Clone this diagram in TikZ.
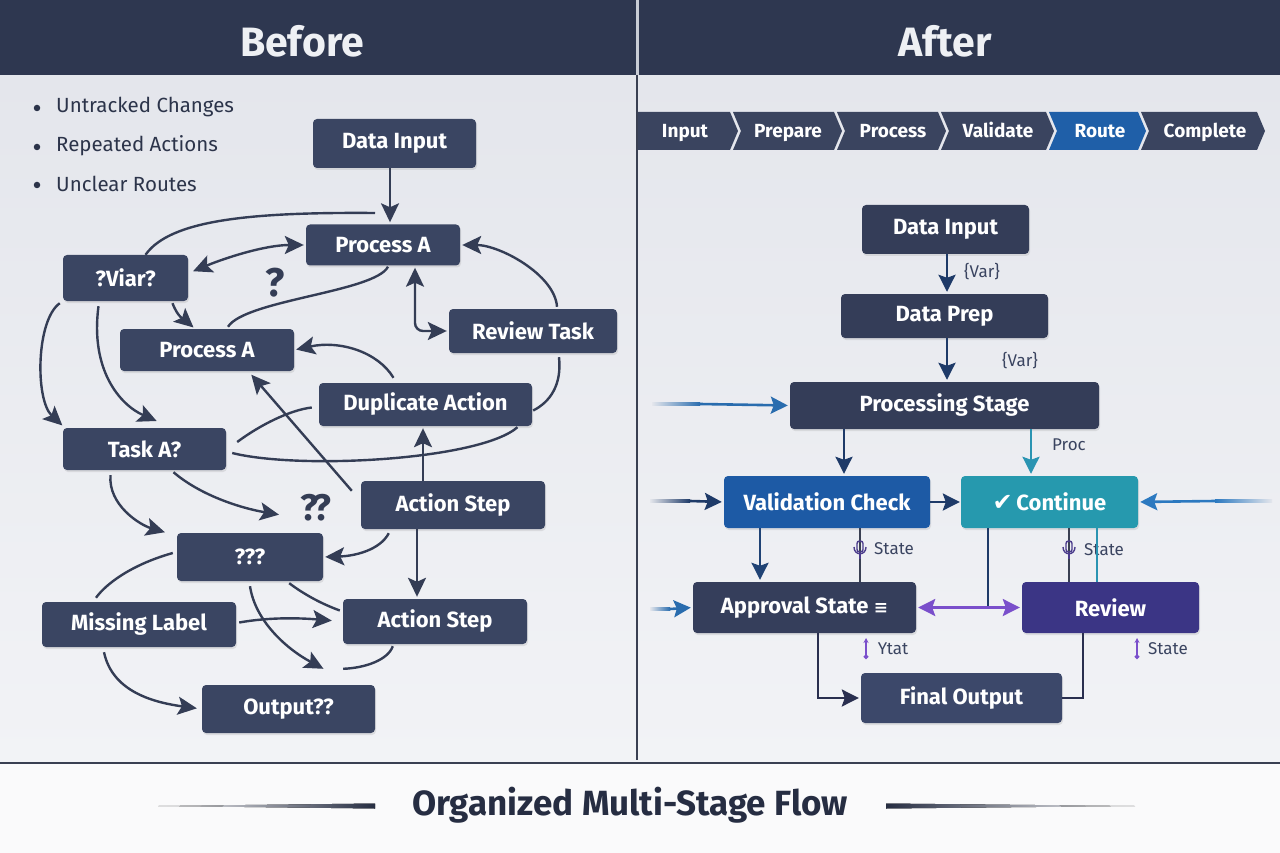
\documentclass[tikz,border=0pt]{standalone}
\usepackage{fontspec}
\setmainfont{Fira Sans}
\newfontfamily\symfont{DejaVu Sans}
\usetikzlibrary{arrows.meta,shadows,calc}
\definecolor{hdr}{HTML}{2E3750}
\definecolor{hdrtext}{HTML}{EEF0F4}
\definecolor{hdrline}{HTML}{C9CDD6}
\definecolor{divc}{HTML}{3A4052}
\definecolor{bgtop}{HTML}{E4E6EC}
\definecolor{bgbot}{HTML}{F2F3F6}
\definecolor{botc}{HTML}{FAFAFB}
\definecolor{nodec}{HTML}{3A4562}
\definecolor{linec}{HTML}{343D55}
\definecolor{txtc}{HTML}{2C344A}
\definecolor{chevc}{HTML}{3A445F}
\definecolor{routec}{HTML}{1F5FA8}
\definecolor{valc}{HTML}{1D5AA5}
\definecolor{contc}{HTML}{2699AE}
\definecolor{apprc}{HTML}{353E5B}
\definecolor{revc}{HTML}{3B3585}
\definecolor{finc}{HTML}{3C486A}
\definecolor{darkc}{HTML}{343D58}
\definecolor{navyc}{HTML}{1E3A68}
\definecolor{tealc}{HTML}{2A94B2}
\definecolor{purpc}{HTML}{7A4FCB}
\definecolor{bluec}{HTML}{2C79C0}
\definecolor{lblc}{HTML}{3A4460}
\definecolor{iconc}{HTML}{4B3C8C}
\definecolor{titlec}{HTML}{262D42}
\definecolor{elbowc}{HTML}{2A2F4F}
\newcommand\stateicon[1]{%
  \draw[iconc, line width=1.4pt, rounded corners=2.5pt] ($(#1)+(-3,-8)$) rectangle ($(#1)+(3,3)$);
  \draw[iconc, line width=1.4pt] ($(#1)+(-6,-2)$) .. controls ($(#1)+(-6,7)$) and ($(#1)+(6,7)$) .. ($(#1)+(6,-2)$);
  \draw[iconc, line width=1.4pt] ($(#1)+(0,5)$) -- ($(#1)+(0,10)$);}
\begin{document}
\begin{tikzpicture}[x=1pt,y=-1pt,
  box/.style={rounded corners=4pt, inner sep=0pt, text=white,
    font=\bfseries\fontsize{22}{26}\selectfont,
    drop shadow={opacity=0.18, shadow xshift=1pt, shadow yshift=-2pt}},
  lbox/.style={box, fill=nodec},
  lconn/.style={draw=linec, line width=2.4pt},
  larr/.style={lconn, -{Stealth[length=19pt,width=18pt,inset=4pt]}, shorten >=2pt},
  lbarr/.style={lconn, {Stealth[length=19pt,width=18pt,inset=4pt]}-{Stealth[length=19pt,width=18pt,inset=4pt]}, shorten >=2pt, shorten <=2pt},
  rarr/.style={line width=2.6pt, -{Stealth[length=17pt,width=17pt,inset=3pt]}, shorten >=2pt},
  rbarr/.style={line width=2.6pt, {Stealth[length=17pt,width=17pt,inset=3pt]}-{Stealth[length=17pt,width=17pt,inset=3pt]}, shorten >=2pt, shorten <=2pt},
  lbl/.style={font=\fontsize{17}{20}\selectfont, text=lblc, inner sep=0pt},
  chevtxt/.style={font=\bfseries\fontsize{19}{22}\selectfont, text=white, inner sep=0pt, anchor=base},
  qmark/.style={font=\bfseries\fontsize{40}{44}\selectfont, text=linec, inner sep=0pt},
  bultxt/.style={font=\fontsize{20.5}{24}\selectfont, text=txtc, inner sep=0pt, anchor=west},
  bdot/.style={circle, fill=txtc, inner sep=0pt, minimum size=6.5pt}
]
\useasboundingbox (0,0) rectangle (1280,853);
% ---------- backgrounds
\fill[top color=bgtop, bottom color=bgbot] (0,75) rectangle (1280,763);
\fill[botc] (0,763) rectangle (1280,853);
\fill[hdr] (0,0) rectangle (1280,75);
\fill[hdrline] (635.5,0) rectangle (638.5,75);
\draw[divc, line width=1.6pt] (637,75) -- (637,760);
\draw[divc, line width=2pt] (0,763) -- (1280,763);
\node[font=\bfseries\fontsize{41}{46}\selectfont, text=hdrtext] (hb) at (302,41) {Before};
\node[font=\bfseries\fontsize{41}{46}\selectfont, text=hdrtext] (ha) at (945,41) {After};
% ---------- bottom title
\node[font=\bfseries\fontsize{35}{40}\selectfont, text=titlec] (title) at (630,805) {Organized Multi-Stage Flow};
\fill[left color=botc, right color=titlec] (158,806) -- (375,803.5) -- (375,808.5) -- cycle;
\fill[left color=titlec, right color=botc] (886,803.5) -- (1135,806) -- (886,808.5) -- cycle;
% ---------- bullets
\node[bdot] (b1d) at (37,108) {};
\node[bultxt] (b1) at (56,107) {Untracked Changes};
\node[bdot] (b2d) at (37,147) {};
\node[bultxt] (b2) at (56,146) {Repeated Actions};
\node[bdot] (b3d) at (37,185) {};
\node[bultxt] (b3) at (56,184) {Unclear Routes};
% ---------- left nodes
\node[lbox, minimum width=163pt, minimum height=49pt] (ldin) at (394.5,143.5) {Data Input};
\node[lbox, minimum width=154pt, minimum height=41pt] (lpa1) at (383,245) {Process A};
\node[lbox, minimum width=125pt, minimum height=46pt] (lviar) at (125.5,278) {?Viar?};
\node[lbox, minimum width=174pt, minimum height=42pt] (lpa2) at (207,350) {Process A};
\node[lbox, minimum width=168pt, minimum height=44pt] (lrev) at (533,331) {Review Task};
\node[lbox, minimum width=213pt, minimum height=43pt] (ldup) at (425.5,404.5) {Duplicate Action};
\node[lbox, minimum width=163pt, minimum height=42pt] (ltask) at (144.5,449) {Task A?};
\node[lbox, minimum width=184pt, minimum height=48pt] (las1) at (453,505) {Action Step};
\node[lbox, minimum width=146pt, minimum height=48pt] (lq3) at (250,557) {???};
\node[lbox, minimum width=194pt, minimum height=45pt] (lmiss) at (139,624.5) {Missing Label};
\node[lbox, minimum width=184pt, minimum height=45pt] (las2) at (435,621.5) {Action Step};
\node[lbox, minimum width=173pt, minimum height=48pt] (lout) at (288.5,709) {Output??};
\node[qmark] (q1) at (275,283) {?};
\node[qmark, font=\bfseries\fontsize{37}{40}\selectfont] (q2) at (316,508) {?\kern-5pt?};
\coordinate (j1) at (375,213);
\coordinate (q2t) at (281,515);
% ---------- left connectors
\draw[larr] ([xshift=-4.5pt]ldin.south) -- ([xshift=7pt]lpa1.north);
\draw[lconn] ([xshift=20pt]lviar.north) .. controls (170,220) and (250,212) .. (j1);
\draw[lbarr] ($(lviar.east)+(3,-6)$) .. controls (225,258) and (265,245) .. (lpa1.west);
\draw[larr] ($(lviar.south)+(47,2)$) .. controls (178,318) and (185,320) .. ($(lpa2.north)+(-12,0)$);
\draw[lconn] ($(lpa2.north)+(21,-2)$) .. controls (245,300) and (375,292) .. ($(lpa1.south)+(5,1)$);
\draw[lbarr, rounded corners=8pt] ($(lpa1.south)+(32,0)$) |- (lrev.west);
\draw[larr] ($(lrev.north)+(24,-2)$) .. controls (555,275) and (500,245) .. (lpa1.east);
\draw[lconn] ($(lrev.south)+(26,4)$) .. controls (562,385) and (550,402) .. ($(ldup.east)+(1,6)$);
\draw[lconn] ($(ldup.south)+(92,1)$) .. controls (480,460) and (300,470) .. ($(ltask.east)+(6,4)$);
\draw[lconn] ($(ltask.east)+(11,-7)$) .. controls (260,425) and (290,410) .. ($(ldup.west)+(-7,3)$);
\draw[larr] ($(ldup.north)+(-32,-5)$) .. controls (378,352) and (340,340) .. (lpa2.east);
\draw[larr] ($(las1.north west)+(-9,10)$) -- ($(lpa2.south)+(43,2)$);
\draw[larr] ([xshift=-30pt]las1.north) -- ([xshift=-2.5pt]ldup.south);
\draw[larr] ($(lviar.south west)+(-3,2)$) .. controls (36,320) and (35,400) .. ($(ltask.north west)+(1,-1)$);
\draw[larr] ($(lviar.south)+(-27,5)$) .. controls (90,370) and (120,405) .. ($(ltask.north)+(14,-6)$);
\draw[larr] ($(ltask.south)+(-34,5)$) .. controls (108,505) and (140,525) .. ($(lq3.north west)+(-10,0)$);
\draw[larr] ($(ltask.south)+(29,2)$) .. controls (200,495) and (240,508) .. (q2t);
\draw[larr] ($(las1.south west)+(28,4)$) .. controls (380,550) and (355,556) .. (lq3.east);
\draw[larr] ([xshift=-36pt]las1.south) -- ([xshift=-18pt]las2.north);
\draw[lconn] ($(lq3.west)+(-4,-4)$) .. controls (130,565) and (105,585) .. ($(lmiss.north)+(-43,-4)$);
\draw[larr, shorten >=0pt] ($(lq3.south)+(0,5)$) .. controls (255,620) and (285,648) .. ($(lout.north)+(35,-16)$);
\draw[lconn] ($(lq3.south east)+(-34,2)$) .. controls (305,595) and (322,604) .. ($(las2.west)+(-3,-11)$);
\draw[larr, shorten >=11pt] ($(lmiss.east)+(3,-2)$) .. controls (270,617) and (300,618) .. (las2.west);
\draw[larr, shorten >=5pt] ($(lmiss.south)+(-35,5)$) .. controls (112,690) and (150,702) .. (lout.west);
\draw[lconn] ($(las2.south west)+(50,2)$) .. controls (388,660) and (365,668) .. ($(lout.north east)+(-32,-16)$);
% ---------- chevrons
\fill[chevc] (638,112) -- (730,112) -- (738,131) -- (730,150) -- (638,150) -- cycle;
\fill[chevc] (733,112) -- (834,112) -- (842,131) -- (834,150) -- (733,150) -- (741,131) -- cycle;
\fill[chevc] (837,112) -- (938,112) -- (946,131) -- (938,150) -- (837,150) -- (845,131) -- cycle;
\fill[chevc] (941,112) -- (1046,112) -- (1054,131) -- (1046,150) -- (941,150) -- (949,131) -- cycle;
\fill[routec] (1049,112) -- (1138,112) -- (1146,131) -- (1138,150) -- (1049,150) -- (1057,131) -- cycle;
\fill[chevc] (1141,112) -- (1257,112) -- (1265,131) -- (1257,150) -- (1141,150) -- (1149,131) -- cycle;
\node[chevtxt] (c1) at (685,138) {Input};
\node[chevtxt] (c2) at (788,138) {Prepare};
\node[chevtxt] (c3) at (893,138) {Process};
\node[chevtxt] (c4) at (998,138) {Validate};
\node[chevtxt] (c5) at (1100,138) {Route};
\node[chevtxt] (c6) at (1205,138) {Complete};
% ---------- right nodes
\node[box, fill=darkc, minimum width=167pt, minimum height=49pt] (rdin) at (945.5,229.5) {Data Input};
\node[box, fill=darkc, minimum width=207pt, minimum height=44pt] (rprep) at (944.5,316) {Data Prep};
\node[box, fill=darkc, minimum width=309pt, minimum height=47pt] (rproc) at (944.5,405.5) {Processing Stage};
\node[box, fill=valc, minimum width=206pt, minimum height=52pt] (rval) at (827,502) {Validation Check};
\node[box, fill=contc, minimum width=177pt, minimum height=52pt] (rcont) at (1049.5,502) {{\symfont\bfseries\fontsize{24}{26}\selectfont ✔}\,Continue};
\node[box, fill=apprc, minimum width=223pt, minimum height=51pt] (rappr) at (804.5,607.5) {Approval State {\symfont\bfseries\fontsize{17}{20}\selectfont ≡}};
\node[box, fill=revc, minimum width=177pt, minimum height=51pt] (rrev) at (1110.5,607.5) {Review};
\node[box, fill=finc, minimum width=201pt, minimum height=50pt] (rfin) at (961.5,698) {Final Output};
% column coordinates
\coordinate (c818) at (818,0);
\coordinate (c860) at (860,0);
\coordinate (c988) at (988,0);
\coordinate (c1069) at (1069,0);
\coordinate (c1083) at (1083,0);
\coordinate (c1097) at (1097,0);
\coordinate (inA) at (700,404);
\coordinate (inB) at (690,501);
\coordinate (inC) at (1215,501);
\coordinate (inD) at (670,609);
% ---------- right connectors
\draw[rarr, color=navyc] ([xshift=1.5pt]rdin.south) -- ([xshift=2.5pt]rprep.north);
\node[lbl] (v1) at (982,272) {\{Var\}};
\draw[rarr, color=navyc] ([xshift=2.5pt]rprep.south) -- ([xshift=2.5pt]rproc.north);
\node[lbl] (v2) at (1020,361) {\{Var\}};
\shade[left color=bgtop, right color=bluec!80!navyc] (652,402.8) rectangle (700,405.2);
\draw[rarr, color=bluec!80!navyc] (inA) -- (rproc.west);
\draw[rarr, color=navyc] ([xshift=-100.5pt]rproc.south) -- ([xshift=17pt]rval.north);
\draw[rarr, color=tealc] ([xshift=86.5pt]rproc.south) -- ([xshift=-18.5pt]rcont.north);
\node[lbl] (proc) at (1069,445) {Proc};
\shade[left color=bgtop, right color=navyc] (650,499.8) rectangle (690,502.2);
\draw[rarr, color=navyc] (inB) -- (rval.west);
\draw[rarr, color=navyc, shorten >=1pt] (rval.east) -- (rcont.west);
\shade[left color=bluec, right color=bgtop] (1215,499.8) rectangle (1272,502.2);
\draw[rarr, color=bluec] (inC) -- (rcont.east);
\draw[rarr, color=navyc!85!bluec] ([xshift=-67pt]rval.south) -- ([xshift=-44.5pt]rappr.north);
\draw[color=divc, line width=1.2pt] (c860 |- rval.south) -- (c860 |- rappr.north);
\stateicon{860,549}
\node[lbl, anchor=west] (st1) at (874,549) {State};
\draw[color=navyc, line width=2.5pt] (c988 |- rcont.south) -- (c988 |- rappr.east);
\draw[color=divc, line width=1.2pt] (c1069 |- rcont.south) -- (c1069 |- rrev.north);
\stateicon{1069,549}
\node[lbl, anchor=west] (st2) at (1084,550) {State};
\draw[color=tealc, line width=2pt] (c1097 |- rcont.south) -- (c1097 |- rrev.north);
\draw[rbarr, color=purpc] (rappr.east) -- (rrev.west);
\shade[left color=bgtop, right color=bluec!80!navyc] (650,607.8) rectangle (670,610.2);
\draw[rarr, color=bluec!80!navyc] (inD) -- (rappr.west);
\draw[rarr, color=elbowc] (c818 |- rappr.south) |- (rfin.west);
\draw[color=elbowc, line width=2.5pt] (c1083 |- rrev.south) |- (rfin.east);
\draw[purpc, line width=1.6pt, {Stealth[length=5pt,width=5pt]}-{Circle[length=4.5pt]}] (866,638) -- (866,659);
\node[lbl] (st3) at (893,649) {Ytat};
\draw[purpc, line width=1.6pt, {Stealth[length=5pt,width=5pt]}-{Circle[length=4.5pt]}] (1137,638) -- (1137,659);
\node[lbl] (st4) at (1168,649) {State};
\end{tikzpicture}
\end{document}
